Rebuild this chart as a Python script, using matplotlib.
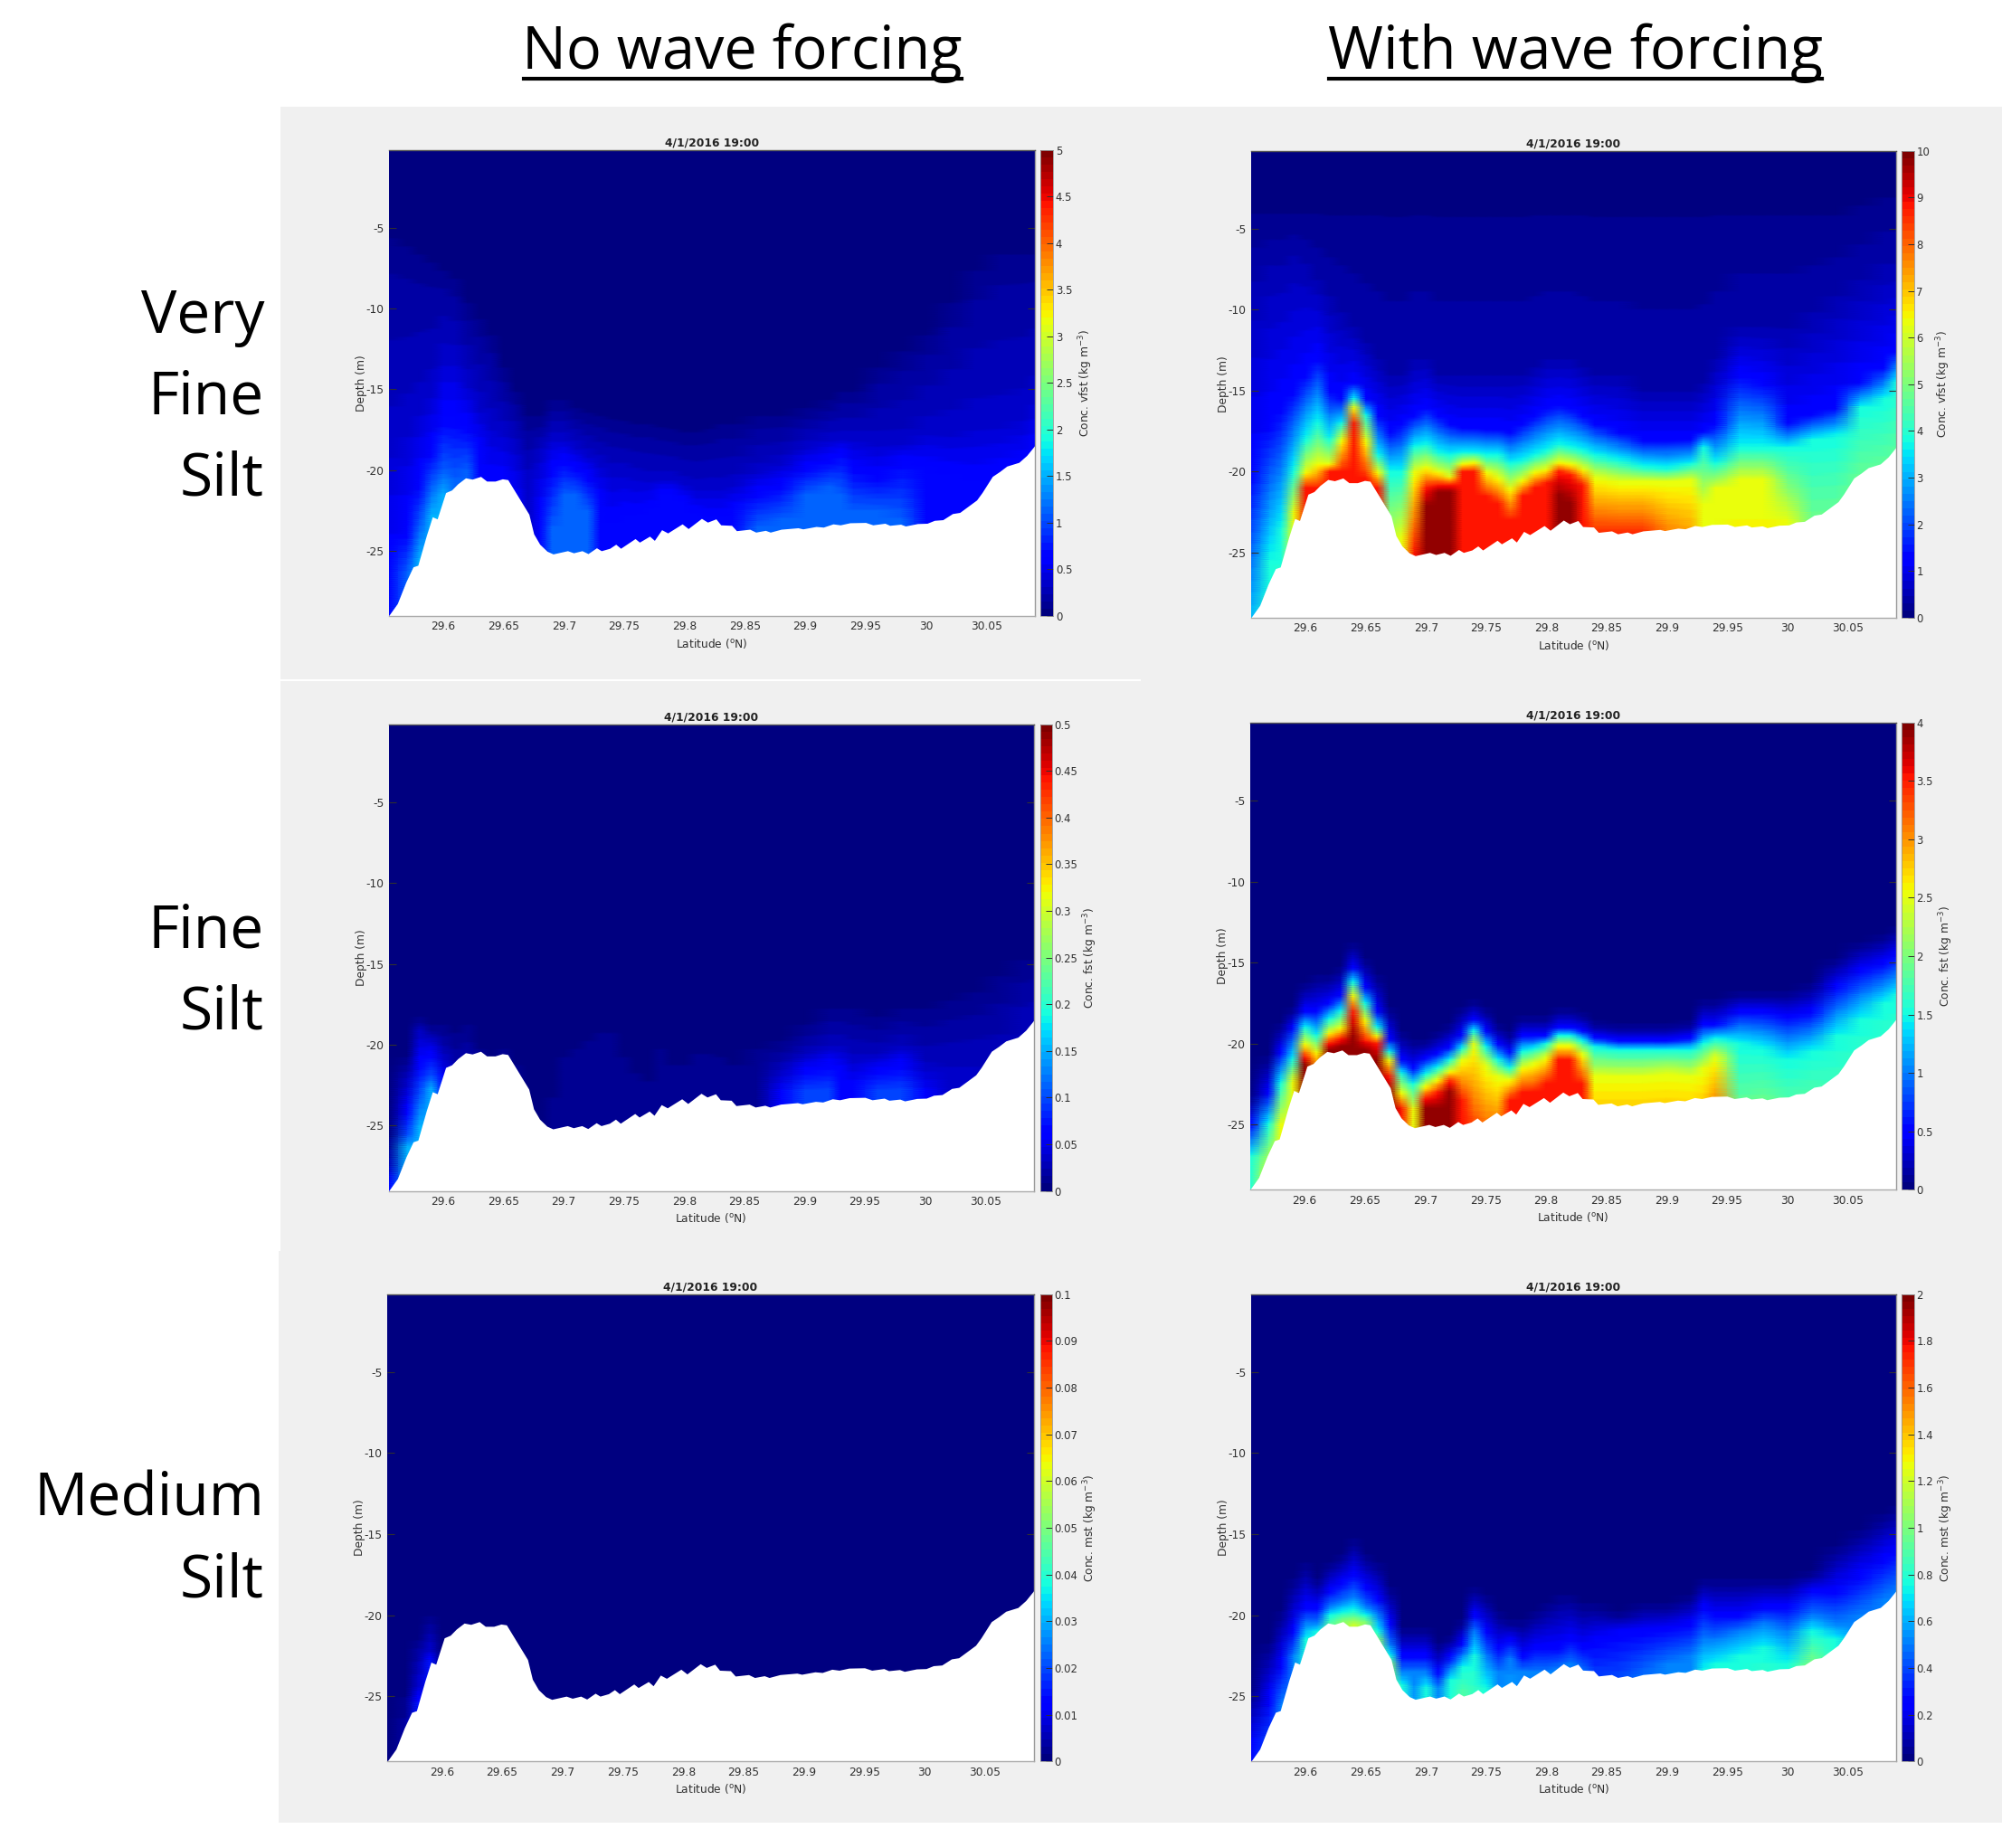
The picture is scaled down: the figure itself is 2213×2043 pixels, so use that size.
import numpy as np
import matplotlib
matplotlib.use("Agg")
import matplotlib.pyplot as plt
from matplotlib.patches import Rectangle
from matplotlib.lines import Line2D

W, H = 2213, 2043
GRAY = "#F0F0F0"
TXT = "#303030"

# bathymetry
bath_lat = [29.555,29.562,29.569,29.575,29.579,29.586,29.591,29.595,29.602,29.607,29.612,29.6185,29.624,29.631,29.636,29.643,29.649,29.6535,29.662,29.671,29.675,29.68,29.686,29.691,29.703,29.708,29.715,29.72,29.727,29.731,29.738,29.743,29.747,29.754,29.759,29.7626,29.771,29.775,29.781,29.786,29.798,29.803,29.814,29.819,29.826,29.83,29.839,29.843,29.854,29.859,29.867,29.871,29.88,29.894,29.898,29.909,29.915,29.923,29.929,29.937,29.95,29.956,29.966,29.97,29.979,29.983,29.993,30.001,30.007,30.014,30.022,30.028,30.034,30.042,30.0465,30.055,30.061,30.067,30.077,30.0835,30.09]
bath_z = [-29.0,-28.27,-26.95,-26.0,-25.9,-24.07,-22.9,-23.03,-21.4,-21.24,-20.86,-20.49,-20.57,-20.4,-20.69,-20.69,-20.55,-20.6,-21.64,-22.74,-23.96,-24.6,-25.03,-25.2,-25.0,-25.13,-25.0,-25.18,-24.82,-25.0,-24.85,-24.6,-24.85,-24.5,-24.25,-24.47,-24.1,-24.36,-23.7,-23.9,-23.34,-23.63,-23.0,-23.23,-23.03,-23.4,-23.43,-23.76,-23.67,-23.85,-23.74,-23.85,-23.67,-23.58,-23.65,-23.5,-23.54,-23.34,-23.4,-23.27,-23.25,-23.4,-23.3,-23.43,-23.36,-23.47,-23.32,-23.3,-23.12,-23.08,-22.7,-22.63,-22.3,-21.86,-21.4,-20.4,-20.1,-19.76,-19.53,-19.1,-18.5]

# stations at which the concentration isolines were read
stations = [29.555,29.57,29.58,29.59,29.60,29.61,29.62,29.63,29.64,29.65,29.66,29.67,29.68,29.69,29.70,29.71,29.72,29.73,29.74,29.75,29.76,29.77,29.78,29.79,29.80,29.81,29.82,29.83,29.84,29.86,29.88,29.90,29.92,29.93,29.94,29.96,29.98,30.0,30.02,30.04,30.06,30.08,30.09]

# for each panel: concentration levels, and per station the depth at which each level is reached
vfst_nowave_levels = [0.12,0.35,0.65,1.1,1.5]
vfst_nowave = [[-6,-18,-27],[-6.5,-17,-24,-26.3],[-7,-16,-21,-23.5,-25.5],[-7.5,-15,-19,-21,-22.8],[-8,-13,-17,-20,-21.5],[-8.5,-13,-17,-20.5],[-10,-14.5,-17.5,-20],[-11,-16,-19],[-12,-17,-21],[-14,-17.5,-21],[-15.5,-18.5,-22.5],[-17,-20.5],[-17,-19,-23],[-16,-18,-20,-23.5],[-16,-18,-19.5,-21.5],[-16.5,-18.5,-20,-21.5],[-16.8,-19,-20.5,-22.5],[-17,-19.5,-22],[-17.2,-20,-23.5],[-17.3,-20,-23],[-17.5,-20.3,-23],[-17.5,-20.5,-22.5],[-17.7,-20.5,-21.5],[-17.8,-20.5,-21.5],[-18,-20.8,-22],[-18,-21,-22.8],[-17.8,-21,-23],[-17.5,-21,-23],[-17.5,-20.8,-22.5],[-17,-20,-21.5,-23.5],[-17,-19.5,-21,-23],[-16.5,-18.5,-20,-21.5],[-16,-18,-19.5,-21],[-15.5,-18,-19,-21.5],[-15.5,-18,-20,-22.5],[-14,-18.3,-20.5,-22.5],[-13,-18.3,-19.5,-23],[-12,-17.5,-20],[-10,-17.5,-20.5],[-8,-17,-21],[-7,-17,-20.5],[-7,-16.5,-20],[-7,-15.5,-19]]

vfst_wave_levels = [0.15,0.45,1.25,3.75,6.25,8.75,9.8]
vfst_wave = [[-4,-8,-20,-32],[-4,-7,-17,-25.5],[-4,-7,-16,-23.5],[-4,-6.5,-15,-20,-22.5],[-4,-7,-14,-18,-20,-21],[-4,-8,-13,-17,-19.5,-21],[-4,-9,-15,-18,-19.5,-20],[-4,-10,-15.5,-17,-18,-20],[-4,-11,-14.5,-15.5,-16,-17],[-4,-12,-15.5,-16.5,-18,-20.4],[-4,-13,-16.5,-19,-20,-21],[-4,-14,-17.5,-20,-25],[-4,-14,-17,-20,-24],[-4,-13,-16.5,-18.5,-20,-25],[-4,-13,-16,-18.3,-19.7,-21,-22.2],[-4,-14,-16.5,-18.8,-20,-20.8,-21.3],[-4,-14,-17,-19,-20.3,-20.8,-21.3],[-4,-14,-17.3,-18.8,-19.5,-20],[-4,-14,-17.3,-18.8,-19.4,-20],[-4,-14,-17.3,-19,-20,-21.5],[-4,-14,-17.3,-19,-20.3,-22],[-4,-14,-17.5,-19.5,-21,-23],[-4,-14,-17,-19.3,-20.5,-21.5],[-4,-13.5,-16.5,-19,-20,-21],[-4,-13,-16,-18.7,-19.8,-20.7],[-4,-13,-15.8,-18.3,-19.4,-20,-21.5],[-4,-13,-16,-18.5,-19.5,-20.2,-22],[-4,-13.5,-16.5,-18.7,-19.8,-20.8],[-4,-14,-17,-19,-20.3,-24],[-4,-14,-17.5,-19.3,-20.6,-24],[-4,-15,-18,-19.7,-20.6,-24],[-4,-15,-18,-19.8,-20.6,-26],[-4,-15,-18,-19.5,-20.5,-28],[-4,-14.5,-17.5,-18.5,-22],[-4,-13,-17,-19.5,-21],[-4,-11,-14,-18.5,-20.5],[-4,-11,-14.5,-18.5,-20.5],[-4,-11,-17,-18.5,-23],[-4,-10,-16.5,-18,-30],[-4,-9,-16,-17.8,-30],[-3.5,-8,-14.5,-16,-27],[-3,-7,-13.5,-15.5,-27],[-3,-7,-12.5,-14.5,-27]]

fst_nowave_levels = [0.01,0.03,0.06,0.1,0.15]
fst_nowave = [[-26,-27.5,-28.5],[-21,-22,-24,-25.5,-26.3],[-18.5,-19,-21,-23,-25],[-19,-19.5,-20.5,-21.8,-22.7],[-19,-20.5,-22],[-19.5,-22],[-19,-22],[-20.5],[-21],[-20.5],[-21.5],[],[],[-23.5],[-21],[-20.5],[-20],[-19.5],[-19.5],[-21],[-22],[-22.5],[-20.5],[-21.5],[-21.5],[-20.8],[-20.8],[-21],[-21.5],[-20.5],[-20,-21.5,-23],[-19,-20.5,-21.5,-23],[-18,-20,-21,-23],[-18,-20,-21.5],[-18,-20.5,-22.5],[-18.5,-20.5,-21.5,-23],[-18,-20,-21,-23],[-18,-21,-23],[-17.5,-21,-30],[-17,-21,-30],[-16,-21],[-15,-19],[-15,-18.5]]

mst_nowave_levels = [0.003,0.008,0.015]
mst_nowave = [[],[-25.5],[-22,-24.5,-25.5],[-20.5,-22.3,-22.8],[],[],[],[],[],[],[],[],[],[],[],[],[],[],[],[],[],[],[],[],[],[],[],[],[],[],[],[],[],[],[],[],[],[],[],[],[],[],[]]

fst_wave_levels = [0.08,0.5,1.5,2.5,3.5,3.9]
fst_wave = [[-23.5,-25,-27],[-21,-23,-25,-28],[-19,-20.5,-22.5,-25],[-18,-19,-21,-22.3],[-16.5,-18,-19,-20,-20.8,-21.3],[-16,-18,-19.5,-20.5,-22],[-16,-17.5,-18.5,-19.3,-20,-20.4],[-15.5,-17,-18,-19,-19.7,-20.2],[-14,-15.3,-16.2,-17,-18,-19.5],[-15,-16.5,-17.5,-18.5,-19.8,-20.4],[-16,-18,-19,-19.5,-20,-21],[-18,-19.7,-20.5,-21,-22,-23],[-19.5,-21,-21.8,-23,-24],[-20,-21.5,-22.5,-24],[-20,-20.9,-21.9,-22.6,-23.4,-24],[-19.5,-20.6,-21.5,-22.2,-23,-24],[-19,-20.2,-21,-21.7,-22.3,-23],[-18,-19.5,-20.3,-21,-23.5],[-17.5,-18.5,-19.2,-20,-26],[-18,-19.2,-20.2,-21.3,-27],[-19,-20,-21,-22,-27],[-19.5,-20.5,-21.5,-22.2,-23.5],[-18.5,-19.5,-20.5,-21.5,-23],[-18.5,-19.5,-20.3,-21.2,-23],[-18.5,-19.5,-20,-20.8,-22.5],[-18,-19,-19.5,-20.1,-21],[-18,-19,-19.5,-20.1,-21],[-18.3,-19.2,-19.8,-20.6,-22.5],[-18.8,-19.6,-20.2,-22,-30],[-19,-19.8,-20.4,-22,-30],[-19,-19.8,-20.4,-22,-30],[-19,-19.8,-20.4,-21.8,-30],[-18.8,-19.6,-20.4,-22,-30],[-17.5,-18.8,-20,-21.5,-30],[-17.5,-18.8,-19.7,-20.8,-26],[-17,-18,-20,-30],[-17,-18,-20.3,-28],[-17,-18.3,-21,-30],[-16.5,-18,-20.5,-30],[-15,-16.5,-19.5,-35],[-14,-15.5,-18.5,-35],[-13.5,-15,-17.5,-35],[-13,-14.5,-17,-35]]

mst_wave_levels = [0.04,0.25,0.5,0.75,1.0,1.2]
mst_wave = [[-25,-28],[-22,-25,-30],[-20,-23,-25.5],[-18,-21,-22.5],[-17,-19.5,-20.5,-21.5],[-18,-19.5,-20.5,-21],[-17,-18.5,-19.5,-20,-21],[-16.5,-18,-19.2,-19.8,-20.3],[-15.5,-17.5,-18.8,-19.7,-20.2,-20.6],[-16.5,-18.3,-19.5,-20,-20.4],[-17,-19,-20,-21,-21.5],[-18.5,-20.5,-21.8,-22.5,-23],[-21,-22.5,-23.5,-24.3],[-21,-22.5,-23.5,-30],[-21,-22.5,-23.5,-24.5],[-22,-23.5,-24.5,-30],[-21.5,-22.5,-23.3,-24],[-20.5,-21.7,-22.5,-23.2,-26],[-18.5,-20,-21,-22.5,-30],[-19,-21,-22.5,-24.5],[-20,-22,-23.5,-30],[-20.5,-21.5,-22.7,-30],[-20.5,-22.5,-23.5,-30],[-20,-22,-23.5,-30],[-19.5,-22,-23.5,-30],[-19,-22,-23.3,-30],[-19,-21.5,-23,-30],[-19.5,-22,-23.5,-30],[-19.5,-21.5,-26],[-20,-21,-26],[-19.5,-21,-24,-30],[-19.5,-20.8,-23,-30],[-19,-20.5,-22.5,-30],[-18,-19.5,-21.5,-23.5,-30],[-18,-20,-21.5,-23,-30],[-18,-20,-21,-22.5,-30],[-18,-19.5,-20.5,-22,-30],[-18,-19.5,-21,-23,-30],[-17.5,-18.5,-20,-21,-23],[-16,-18.5,-20.5,-21.5,-30],[-15,-17.5,-20,-30],[-14,-16.5,-19,-30],[-13.5,-16,-18.5,-30]]

vfst_nowave_ticks = [0,0.5,1,1.5,2,2.5,3,3.5,4,4.5,5]
vfst_wave_ticks = [0,1,2,3,4,5,6,7,8,9,10]
fst_nowave_ticks = [0,0.05,0.1,0.15,0.2,0.25,0.3,0.35,0.4,0.45,0.5]
fst_wave_ticks = [0,0.5,1,1.5,2,2.5,3,3.5,4]
mst_nowave_ticks = [0,0.01,0.02,0.03,0.04,0.05,0.06,0.07,0.08,0.09,0.1]
mst_wave_ticks = [0,0.2,0.4,0.6,0.8,1,1.2,1.4,1.6,1.8,2]
lat_ticks = [29.6,29.65,29.7,29.75,29.8,29.85,29.9,29.95,30,30.05]
lat_ticklabels = ["29.6","29.65","29.7","29.75","29.8","29.85","29.9","29.95","30","30.05"]
depth_ticks = [-25,-20,-15,-10,-5]
panel_title = "4/1/2016 19:00"
col_titles = ["No wave forcing", "With wave forcing"]
col_title_sizes = [46.7, 47.5]

plt.rcParams["font.family"] = ["DejaVu Sans"]
fig = plt.figure(figsize=(W / 100, H / 100), dpi=100, facecolor="white")


def fx(p):
    return p / W


def fy(p):
    return 1 - p / H


def add_px_rect(x0, y0, x1, y1, color, z=0):
    fig.add_artist(Rectangle((fx(x0), fy(y1)), (x1 - x0) / W, (y1 - y0) / H, transform=fig.transFigure,
                             facecolor=color, edgecolor="none", zorder=z))


add_px_rect(310, 118, W, 1383, GRAY, -5)
add_px_rect(308, 1383, W, 2015, GRAY, -5)
add_px_rect(310, 751, 1261, 753, "white", -4)

cmap = plt.get_cmap("jet", 64)
z_grid = np.linspace(-31, 0, 311)


def field(levels, rows):
    out = np.zeros((z_grid.size, len(stations)))
    n = len(levels)
    for j, row in enumerate(rows):
        deps = list(row) + [-60.0 - i for i in range(n - len(row))]
        xp = [-100.0] + deps[::-1] + [deps[0] + 1.0, 1.0]
        fp = [levels[-1]] + list(levels[::-1]) + [0.0, 0.0]
        out[:, j] = np.interp(z_grid, np.maximum.accumulate(xp), fp)
    return out


def panel(box, cbox, levels, rows, vmax, ticks, name, label_x):
    x0, x1, y0, y1 = box
    ax = fig.add_axes([fx(x0), fy(y1), (x1 - x0) / W, (y1 - y0) / H])
    pm = ax.pcolormesh(stations, z_grid, field(levels, rows), shading="gouraud", cmap=cmap, vmin=0, vmax=vmax,
                       rasterized=True)
    ax.fill_between(bath_lat, bath_z, -40, color="white", lw=0, zorder=3)
    ax.set_xlim(29.555, 30.09)
    ax.set_ylim(-29.03, -0.18)
    ax.set_xticks(lat_ticks, lat_ticklabels)
    ax.set_yticks(depth_ticks, [str(t) for t in depth_ticks])
    ax.tick_params(direction="in", length=6, width=0.8, top=False, right=True, labelsize=8.8, colors=TXT, pad=4,
                   zorder=4)
    ax.set_axisbelow(False)
    ax.spines["left"].set_visible(False)
    for s, c in zip(["top", "right", "bottom"], ["#555555", "#999999", "#AAAAAA"]):
        ax.spines[s].set_color(c)
        ax.spines[s].set_linewidth(1.0)
        ax.spines[s].set_zorder(5)
    ax.set_title(panel_title, fontsize=8.8, fontweight="bold", color="#222222", pad=3)
    ax.set_xlabel("Latitude ($^{\\mathrm{o}}$N)", fontsize=8.8, color=TXT, labelpad=3)
    ax.set_ylabel("Depth (m)", fontsize=8.8, color=TXT, labelpad=-1)
    cax = fig.add_axes([fx(cbox[0]), fy(y1), (cbox[1] - cbox[0]) / W, (y1 - y0) / H])
    cb = fig.colorbar(pm, cax=cax, ticks=ticks)
    cb.ax.set_yticklabels([f"{t:g}" for t in ticks])
    cb.ax.tick_params(direction="in", length=5, width=0.7, labelsize=8.4, colors=TXT, pad=2)
    cb.outline.set_edgecolor("#999999")
    cb.outline.set_linewidth(0.6)
    cb.set_label(f"Conc. {name} (kg m$^{{-3}}$)", fontsize=8.8, color=TXT)
    cb.ax.yaxis.set_label_coords((label_x - 7 - cbox[0]) / (cbox[1] - cbox[0]), 0.5)


panel((429.9, 1143.6, 165.6, 680.8), (1150, 1164), vfst_nowave_levels, vfst_nowave, 5, vfst_nowave_ticks, "vfst", 1197)
panel((1383.2, 2095.8, 166.8, 682.8), (2102.4, 2115.5), vfst_wave_levels, vfst_wave, 10, vfst_wave_ticks, "vfst", 2145.7)
panel((430, 1142.5, 800.6, 1316.5), (1149.6, 1162.8), fst_nowave_levels, fst_nowave, 0.5, fst_nowave_ticks, "fst", 1202)
panel((1382, 2095.8, 798.7, 1315.3), (2102.4, 2115.5), fst_wave_levels, fst_wave, 4, fst_wave_ticks, "fst", 2148.5)
panel((428.3, 1142.5, 1430.6, 1947.3), (1149.6, 1162.8), mst_nowave_levels, mst_nowave, 0.1, mst_nowave_ticks, "mst", 1202)
panel((1383.2, 2095.8, 1430.6, 1947.2), (2102.4, 2115.5), mst_wave_levels, mst_wave, 2, mst_wave_ticks, "mst", 2148.5)

BIG = 47.5
big_font = ["Open Sans", "DejaVu Sans"]
for t, sz, xc, xa, xb in zip(col_titles, col_title_sizes, [820, 1742], [579, 1469], [1063, 2014]):
    fig.text(fx(xc), fy(59), t, ha="center", va="center", fontsize=sz, family=big_font, color="black")
    fig.add_artist(Line2D([fx(xa), fx(xb)], [fy(87), fy(87)], transform=fig.transFigure, color="black", lw=3))
for t, yc in [("Very", 351), ("Fine", 440), ("Silt", 530), ("Fine", 1031), ("Silt", 1120), ("Medium", 1659), ("Silt", 1749)]:
    fig.text(fx(292), fy(yc), t, ha="right", va="center", fontsize=BIG, family=big_font, color="black")

fig.savefig("out.png", dpi=100, facecolor="white")
